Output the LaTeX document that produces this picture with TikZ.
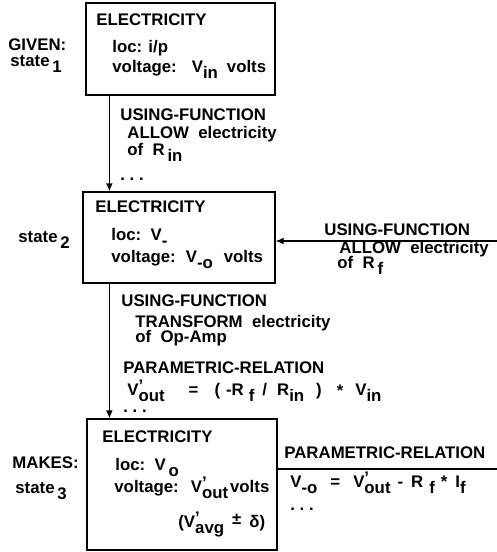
\documentclass[tikz,border=0pt]{standalone}
\usepackage{fontspec}
\setmainfont{Liberation Sans}
\usepackage{tikz}
\usetikzlibrary{arrows.meta, positioning, fit, calc}

\newcommand{\subtxt}[1]{\raisebox{-3pt}{#1}}
\newcommand{\primesub}[1]{\rlap{\raisebox{2pt}{'}}\raisebox{-3pt}{#1}}

\begin{document}
\begin{tikzpicture}[
  x=0.5pt, y=-0.5pt,
  font=\bfseries\fontsize{8.4}{10}\selectfont,
  statebox/.style={rectangle, draw, line width=0.6pt, inner sep=0pt},
  lbl/.style={anchor=base west, inner sep=0pt},
  arrow/.style={-{Latex[length=4pt, width=3.4pt]}, line width=0.6pt},
  link/.style={line width=0.6pt}
]
\useasboundingbox (0,0) rectangle (497,552);

% State boxes
\node[statebox, fit={(86,3) (275,95)}] (elec1) {};
\node[statebox, fit={(83,192) (275,283)}] (elec2) {};
\node[statebox, fit={(87,419) (277,550)}] (elec3) {};

% Box contents
\node[lbl] (title1) at (96,25) {ELECTRICITY};
\node[lbl] (loc1) at (112,52) {loc: i/p};
\node[lbl] (volt1) at (112,72) {voltage:\hspace{7.5pt}V\subtxt{in}\hspace{4.5pt}volts};

\node[lbl] (title2) at (95,212) {ELECTRICITY};
\node[lbl] (loc2) at (111,240) {loc:\ \ V\subtxt{-}};
\node[lbl] (volt2) at (111,262) {voltage:\hspace{5pt}V\subtxt{-o}\hspace{5.5pt}volts};

\node[lbl] (title3) at (102,442) {ELECTRICITY};
\node[lbl] (loc3) at (115,470) {loc:\ \ V\,\subtxt{o}};
\node[lbl] (volt3) at (114,492) {voltage:\hspace{6pt}V\primesub{out}\hspace{1pt}volts};
\node[lbl] (tol3) at (178,527) {(V\primesub{avg}\hspace{4pt}\raisebox{1.5pt}{±}\hspace{4pt}δ)};

% States
\node[lbl] (given) at (8,50) {GIVEN:};
\node[lbl] (state1) at (10,66) {state\,\subtxt{1}};
\node[lbl] (state2) at (18,242) {state\,\subtxt{2}};
\node[lbl] (makes) at (12,468) {MAKES:};
\node[lbl] (state3) at (15,493) {state\,\subtxt{3}};

% Transitions
\draw[arrow] ([xshift=12pt]elec1.south west) -- ([xshift=12pt]elec1.south west |- elec2.north);
\draw[arrow] ([xshift=13.5pt]elec2.south west) -- ([xshift=13.5pt]elec2.south west |- elec3.north);

\node[lbl] (uf1) at (120,120) {USING-FUNCTION};
\node[lbl] (allow1) at (127,138) {ALLOW\ \ electricity};
\node[lbl] (of1) at (127,155) {of\ \ R\,\subtxt{in}};
\node[lbl] (dots1) at (120,180) {.\ .\ .};

\node[lbl] (uf2) at (121,306) {USING-FUNCTION};
\node[lbl] (transf2) at (135,327) {TRANSFORM\ \ electricity};
\node[lbl] (of2) at (135,342) {of\ \ Op-Amp};
\node[lbl] (pr2) at (123,373) {PARAMETRIC-RELATION};
\node[lbl] (eq2) at (127,395) {V\primesub{out}\hspace{12pt}=\hspace{8pt}(\hspace{3pt}-R\hspace{2.5pt}\subtxt{f}\hspace{4pt}/\hspace{5pt}R\subtxt{in}\hspace{6pt})\hspace{7.5pt}\raisebox{-0.5pt}{*}\hspace{6pt}V\subtxt{in}};
\node[lbl] (dots2) at (123,412) {.\ .\ .};

% Side inputs
\coordinate (rfin) at (497,241);
\draw[arrow] (rfin) -- (rfin -| elec2.east);
\node[lbl] (uf3) at (324,235) {USING-FUNCTION};
\node[lbl] (allow3) at (339,253) {ALLOW\ \ electricity};
\node[lbl] (of3) at (337,268) {of\ \ R\,\subtxt{f}};

\coordinate (prend) at (497,469);
\draw[link] (prend -| elec3.east) -- (prend);
\node[lbl] (pr3) at (284,458) {PARAMETRIC-RELATION};
\node[lbl] (eq3) at (290,487) {V\subtxt{-o}\hspace{6.5pt}=\hspace{6.5pt}V\primesub{out}\hspace{3.5pt}-\hspace{4pt}R\hspace{3pt}\subtxt{f}\hspace{3pt}*\hspace{4pt}I\subtxt{f}};
\node[lbl] (dots3) at (290,510) {.\ .\ .};

\end{tikzpicture}
\end{document}
